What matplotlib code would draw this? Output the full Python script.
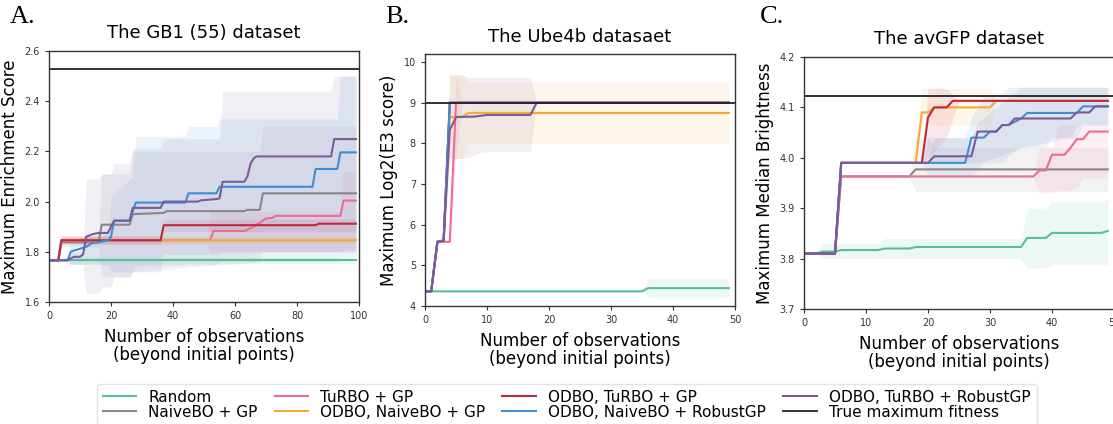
import numpy as np
import matplotlib
matplotlib.use("Agg")
from matplotlib import pyplot as plt

# ---------------- series names / colours ----------------
names = ["Random", "NaiveBO + GP", "TuRBO + GP", "ODBO, NaiveBO + GP",
         "ODBO, TuRBO + GP", "ODBO, NaiveBO + RobustGP", "ODBO, TuRBO + RobustGP"]
colors = ["#55c195", "#8b8686", "#f06b93", "#f7a832",
          "#c0273f", "#3a8fd5", "#7b5a9c"]

# ---------------- A. GB1 (55) ----------------
gb1_x = [
    [0, 99],
    [0, 3, 4, 16, 17, 26, 27, 37, 38, 63, 64, 68, 69, 99],
    [0, 3, 4, 52, 53, 63, 64, 65, 66, 67, 68, 69, 70, 72, 73, 94, 95, 99],
    [0, 3, 4, 99],
    [0, 3, 4, 36, 37, 86, 87, 99],
    [0, 6, 7, 8, 10, 12, 14, 17, 19, 20, 21, 26, 27, 28, 44, 45, 54, 55, 85, 86, 93, 94, 99],
    [0, 6, 8, 10, 11, 12, 14, 16, 19, 20, 21, 26, 27, 28, 36, 37, 48, 49, 54, 55, 56, 63, 64,
     65, 66, 67, 91, 92, 99],
]
gb1_y = [
    [1.766, 1.766],
    [1.766, 1.766, 1.838, 1.838, 1.908, 1.908, 1.95, 1.955, 1.962, 1.962, 1.967, 1.967, 2.033, 2.033],
    [1.766, 1.766, 1.846, 1.846, 1.883, 1.883, 1.887, 1.895, 1.90, 1.91, 1.915, 1.925, 1.933, 1.935,
     1.943, 1.943, 2.004, 2.004],
    [1.766, 1.766, 1.846, 1.846],
    [1.766, 1.766, 1.846, 1.846, 1.906, 1.906, 1.912, 1.912],
    [1.766, 1.766, 1.80, 1.805, 1.812, 1.82, 1.835, 1.84, 1.845, 1.86, 1.924, 1.924, 1.96, 1.996,
     1.996, 2.033, 2.033, 2.059, 2.059, 2.13, 2.13, 2.196, 2.196],
    [1.766, 1.766, 1.78, 1.78, 1.79, 1.86, 1.87, 1.875, 1.875, 1.90, 1.924, 1.924, 1.975, 1.975,
     1.975, 2.0, 2.0, 2.005, 2.01, 2.013, 2.079, 2.079, 2.10, 2.15, 2.172, 2.18, 2.18, 2.249, 2.249],
]
gb1_band_x = [
    [0, 5, 6, 99],
    [0, 3, 4, 16, 17, 26, 27, 68, 69, 99],
    [0, 3, 4, 51, 52, 94, 95, 99],
    [0, 3, 4, 99],
    [0, 3, 4, 36, 37, 99],
    [0, 6, 7, 19, 20, 27, 28, 44, 45, 54, 55, 93, 94, 99],
    [0, 6, 7, 11, 12, 16, 17, 20, 21, 26, 27, 36, 37, 55, 56, 91, 92, 99],
]
gb1_lo = [
    [1.766, 1.766, 1.752, 1.752],
    [1.766, 1.766, 1.82, 1.82, 1.70, 1.70, 1.72, 1.76, 1.80, 1.80],
    [1.766, 1.766, 1.83, 1.83, 1.80, 1.80, 1.81, 1.81],
    [1.766, 1.766, 1.835, 1.835],
    [1.766, 1.766, 1.83, 1.83, 1.88, 1.88],
    [1.766, 1.766, 1.75, 1.75, 1.72, 1.72, 1.745, 1.745, 1.75, 1.75, 1.76, 1.76, 1.78, 1.78],
    [1.766, 1.766, 1.75, 1.75, 1.635, 1.635, 1.66, 1.66, 1.70, 1.70, 1.72, 1.72, 1.79, 1.79,
     1.80, 1.80, 1.80, 1.80],
]
gb1_hi = [
    [1.766, 1.766, 1.778, 1.778],
    [1.766, 1.766, 1.86, 1.86, 2.11, 2.11, 2.2, 2.2, 2.30, 2.30],
    [1.766, 1.766, 1.86, 1.86, 1.96, 1.96, 2.12, 2.12],
    [1.766, 1.766, 1.86, 1.86],
    [1.766, 1.766, 1.865, 1.865, 1.93, 1.93],
    [1.766, 1.766, 1.85, 1.87, 2.02, 2.10, 2.26, 2.26, 2.30, 2.30, 2.33, 2.33, 2.50, 2.50],
    [1.766, 1.766, 1.80, 1.80, 2.09, 2.09, 2.11, 2.11, 2.15, 2.15, 2.21, 2.21, 2.25, 2.25,
     2.44, 2.44, 2.50, 2.50],
]
gb1_true = 2.53

# ---------------- B. Ube4b ----------------
ube_x = [
    [0, 35, 36, 49],
    [0, 1, 2, 3, 4, 49],
    [0, 1, 2, 4, 5, 49],
    [0, 1, 2, 3, 4, 6, 7, 49],
    [0, 1, 2, 3, 4, 49],
    [0, 1, 2, 3, 4, 49],
    [0, 1, 2, 3, 4, 5, 8, 10, 17, 18, 49],
]
ube_y = [
    [4.36, 4.36, 4.44, 4.44],
    [4.36, 4.36, 5.58, 5.6, 9.0, 9.0],
    [4.36, 4.36, 5.58, 5.58, 9.0, 9.0],
    [4.36, 4.36, 5.58, 5.6, 8.65, 8.65, 8.75, 8.75],
    [4.36, 4.36, 5.58, 5.6, 9.0, 9.0],
    [4.36, 4.36, 5.58, 5.62, 9.0, 9.0],
    [4.36, 4.36, 5.58, 5.6, 8.33, 8.65, 8.66, 8.7, 8.7, 9.0, 9.0],
]
ube_band_x = [
    [0, 35, 36, 49],
    [0, 49],
    [0, 4, 5, 6, 49],
    [0, 3, 4, 6, 7, 49],
    [0, 49],
    [0, 49],
    [0, 3, 4, 6, 7, 9, 10, 17, 18, 49],
]
ube_lo = [
    [4.36, 4.36, 4.22, 4.22],
    [4.36, 4.36],
    [4.36, 5.58, 7.63, 9.0, 9.0],
    [4.36, 5.6, 7.63, 7.63, 8.0, 8.0],
    [4.36, 4.36],
    [4.36, 4.36],
    [4.36, 5.6, 7.63, 7.63, 7.65, 7.78, 7.8, 7.8, 9.0, 9.0],
]
ube_hi = [
    [4.36, 4.36, 4.67, 4.67],
    [4.36, 4.36],
    [4.36, 5.58, 9.7, 9.0, 9.0],
    [4.36, 5.6, 9.7, 9.7, 9.5, 9.5],
    [4.36, 4.36],
    [4.36, 4.36],
    [4.36, 5.6, 9.68, 9.68, 9.62, 9.62, 9.62, 9.62, 9.0, 9.0],
]
ube_true = 9.0

# ---------------- C. avGFP ----------------
gfp_x = [
    [0, 2, 3, 5, 6, 12, 13, 17, 18, 35, 36, 39, 40, 48, 49],
    [0, 5, 6, 17, 18, 49],
    [0, 5, 6, 37, 38, 39, 40, 42, 43, 44, 45, 46, 49],
    [0, 5, 6, 18, 19, 20, 21, 30, 31, 49],
    [0, 5, 6, 19, 20, 21, 23, 24, 49],
    [0, 5, 6, 26, 27, 29, 30, 31, 32, 33, 35, 36, 44, 45, 49],
    [0, 5, 6, 20, 21, 27, 28, 31, 32, 33, 34, 35, 43, 44, 46, 47, 49],
]
gfp_y = [
    [3.81, 3.81, 3.814, 3.814, 3.817, 3.817, 3.82, 3.82, 3.823, 3.823, 3.841, 3.841, 3.851,
     3.851, 3.855],
    [3.81, 3.81, 3.963, 3.963, 3.977, 3.977],
    [3.81, 3.81, 3.963, 3.963, 3.975, 3.975, 4.006, 4.006, 4.02, 4.037, 4.037, 4.052, 4.052],
    [3.81, 3.81, 3.99, 3.99, 4.09, 4.09, 4.10, 4.10, 4.113, 4.113],
    [3.81, 3.81, 3.99, 3.99, 4.08, 4.10, 4.10, 4.113, 4.113],
    [3.81, 3.81, 3.99, 3.99, 4.04, 4.04, 4.052, 4.052, 4.065, 4.065, 4.078, 4.089, 4.089,
     4.102, 4.102],
    [3.81, 3.81, 3.99, 3.99, 4.003, 4.003, 4.052, 4.052, 4.065, 4.065, 4.078, 4.078, 4.078,
     4.09, 4.09, 4.102, 4.102],
]
gfp_band_x = [
    [0, 2, 3, 12, 13, 35, 36, 39, 40, 48, 49],
    [0, 5, 6, 17, 18, 20, 21, 49],
    [0, 5, 6, 37, 38, 40, 41, 43, 44, 45, 49],
    [0, 5, 6, 18, 19, 30, 31, 49],
    [0, 5, 6, 19, 20, 23, 25, 49],
    [0, 5, 6, 19, 20, 26, 27, 28, 29, 32, 33, 35, 39, 40, 44, 45, 49],
    [0, 5, 6, 20, 21, 27, 28, 31, 35, 43, 44, 49],
]
gfp_lo = [
    [3.81, 3.81, 3.80, 3.80, 3.80, 3.80, 3.781, 3.781, 3.788, 3.788, 3.788],
    [3.81, 3.81, 3.963, 3.963, 3.933, 3.933, 3.933, 3.933],
    [3.81, 3.81, 3.963, 3.963, 3.93, 3.93, 3.935, 3.935, 3.94, 3.96, 3.96],
    [3.81, 3.81, 3.99, 3.99, 4.065, 4.065, 4.113, 4.113],
    [3.81, 3.81, 3.99, 3.99, 4.0, 4.04, 4.113, 4.113],
    [3.81, 3.81, 3.99, 3.99, 3.963, 3.963, 3.963, 3.975, 3.99, 3.99, 4.005, 4.02, 4.02, 4.04,
     4.04, 4.066, 4.066],
    [3.81, 3.81, 3.99, 3.99, 3.99, 3.99, 3.99, 4.0, 4.02, 4.04, 4.065, 4.065],
]
gfp_hi = [
    [3.81, 3.81, 3.83, 3.83, 3.84, 3.84, 3.90, 3.90, 3.913, 3.913, 3.917],
    [3.81, 3.81, 3.963, 3.963, 4.04, 4.04, 4.02, 4.02],
    [3.81, 3.81, 3.963, 3.963, 4.02, 4.02, 4.066, 4.066, 4.066, 4.066, 4.066],
    [3.81, 3.81, 3.99, 3.99, 4.138, 4.138, 4.113, 4.113],
    [3.81, 3.81, 3.99, 3.99, 4.138, 4.138, 4.113, 4.113],
    [3.81, 3.81, 3.99, 3.99, 4.04, 4.04, 4.08, 4.10, 4.12, 4.13, 4.14, 4.14, 4.14, 4.14,
     4.14, 4.14, 4.14],
    [3.81, 3.81, 3.99, 3.99, 4.04, 4.04, 4.07, 4.10, 4.14, 4.14, 4.14, 4.14],
]
gfp_true = 4.123

panels = [
    dict(letter="A.", title="The GB1 (55) dataset", ylabel="Maximum Enrichment Score",
         xs=gb1_x, ys=gb1_y, bx=gb1_band_x, lo=gb1_lo, hi=gb1_hi, true=gb1_true,
         xlim=(0, 100), ylim=(1.6, 2.6), xticks=np.arange(0, 101, 20),
         yticks=[1.6, 1.8, 2.0, 2.2, 2.4, 2.6], yfmt="{:.1f}",
         pos=[49 / 1113, 122 / 424, 310 / 1113, 251 / 424], lx=10),
    dict(letter="B.", title="The Ube4b datasaet", ylabel="Maximum Log2(E3 score)",
         xs=ube_x, ys=ube_y, bx=ube_band_x, lo=ube_lo, hi=ube_hi, true=ube_true,
         xlim=(0, 50), ylim=(4, 10.2), xticks=np.arange(0, 51, 10),
         yticks=[4, 5, 6, 7, 8, 9, 10], yfmt="{:d}",
         pos=[425 / 1113, 118 / 424, 310 / 1113, 252 / 424], lx=385),
    dict(letter="C.", title="The avGFP dataset", ylabel="Maximum Median Brightness",
         xs=gfp_x, ys=gfp_y, bx=gfp_band_x, lo=gfp_lo, hi=gfp_hi, true=gfp_true,
         xlim=(0, 50), ylim=(3.7, 4.2), xticks=np.arange(0, 51, 10),
         yticks=[3.7, 3.8, 3.9, 4.0, 4.1, 4.2], yfmt="{:.1f}",
         pos=[804 / 1113, 115 / 424, 310 / 1113, 252 / 424], lx=760),
]

fig = plt.figure(figsize=(11.13, 4.24), dpi=100)

for p in panels:
    ax = fig.add_axes(p["pos"])
    for i in range(len(names)):
        ax.fill_between(p["bx"][i], p["lo"][i], p["hi"][i], color=colors[i],
                        alpha=0.1, linewidth=0)
    for i in range(len(names)):
        ax.plot(p["xs"][i], p["ys"][i], color=colors[i], lw=1.5, label=names[i])
    ax.axhline(p["true"], color="#222222", lw=1.3, label="True maximum fitness")

    ax.set_xlim(*p["xlim"])
    ax.set_ylim(*p["ylim"])
    ax.set_xticks(p["xticks"])
    ax.set_yticks(p["yticks"])
    ax.set_yticklabels([p["yfmt"].format(v) for v in p["yticks"]])
    ax.tick_params(labelsize=7, colors="#333333", length=3, width=0.8)
    for s in ax.spines.values():
        s.set_color("#333333")
        s.set_linewidth(1.0)

    ax.set_title(p["title"], fontsize=13, pad=9)
    ax.set_ylabel(p["ylabel"], fontsize=12)
    ax.set_xlabel("Number of observations\n(beyond initial points)", fontsize=12,
                  linespacing=1.0, labelpad=5)

    fig.text(p["lx"] / 1113, 0.985, p["letter"], ha="left", va="top",
             fontsize=19, family=["Liberation Serif", "DejaVu Serif"])

handles, labels = ax.get_legend_handles_labels()
fig.legend(handles, labels, loc="upper center", bbox_to_anchor=(0.509, 0.113),
           ncol=4, fontsize=11, frameon=True, handlelength=2.2,
           handletextpad=0.8, columnspacing=1.1, labelspacing=0.0,
           borderpad=0.4, edgecolor="#dddddd")

fig.savefig("out.png", dpi=100)
